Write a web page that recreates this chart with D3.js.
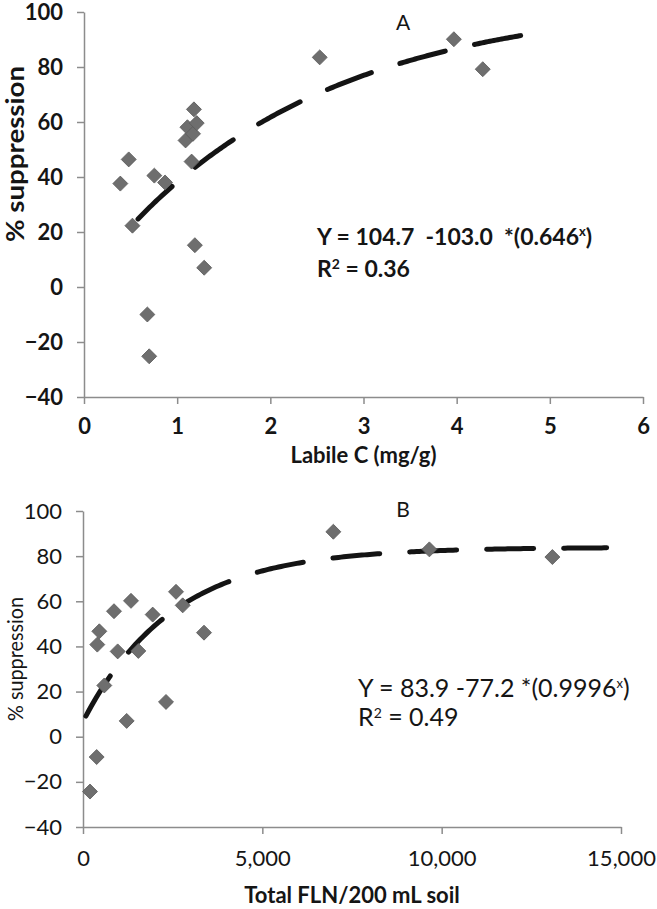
<!DOCTYPE html>
<html>
<head>
<meta charset="utf-8">
<script src="https://cdn.jsdelivr.net/npm/d3@7"></script>
<style>
  html, body { margin: 0; padding: 0; background: #fff; }
  svg { display: block; }
  text { font-family: Lato, "Open Sans", "DejaVu Sans", sans-serif; }
</style>
</head>
<body>
<svg id="chart" width="657" height="909"></svg>
<script>
// ---------- Data ----------
// Panel A: labile C (mg/g) vs % suppression
const labileC = [0.39, 0.48, 0.52, 0.68, 0.70, 0.755, 0.87, 1.09, 1.11, 1.17, 1.18, 1.21, 1.155, 1.19, 1.29, 2.53, 3.97, 4.28];
const suppressionA = [37.6, 46.4, 22.3, -10, -25.2, 40.5, 38, 53.3, 58.1, 55.7, 64.6, 59.6, 45.6, 15.2, 7.0, 83.5, 90.1, 79.2];

// Panel B: total FLN / 200 mL soil vs % suppression
const totalFLN = [195, 381, 399, 455, 594, 864, 967, 1218, 1338, 1543, 1943, 2314, 2593, 2780, 3374, 6980, 9657, 13087];
const suppressionB = [-24.3, -9.0, 40.8, 46.7, 22.7, 55.6, 37.8, 7.0, 60.2, 38.0, 54.1, 15.4, 64.2, 58.2, 46.1, 90.8, 83.0, 79.6];

// Fitted models (Y = a - b * c^x) and their plotted x-ranges
const fitA = [104.7, 103.0, 0.646];
const fitRangeA = [0.58, 4.8];
const fitB = [83.9, 77.2, 0.9996];
const fitRangeB = [80, 14600];

// Ticks
const yTicks = [-40, -20, 0, 20, 40, 60, 80, 100];
const xTicksA = [0, 1, 2, 3, 4, 5, 6];
const xTicksB = [0, 5000, 10000, 15000];

// ---------- Drawing ----------
const svg = d3.select("#chart");
svg.append("rect").attr("width", 657).attr("height", 909).attr("fill", "#fff");

const AXIS = "#8c8c8c";
const INK = "#151515";

function panel(opt) {
  const g = svg.append("g");
  const x = opt.x, y = opt.y;
  const [x0, x1] = x.range();
  const [y0, y1] = y.range(); // y0 bottom, y1 top

  // x axis
  const xa = g.append("g").attr("transform", `translate(0,${y0})`)
    .call(d3.axisBottom(x).tickValues(opt.xTicks).tickFormat(opt.xFmt)
      .tickSize(7).tickSizeOuter(0).tickPadding(opt.xPad));
  // y axis
  const ya = g.append("g").attr("transform", `translate(${x0},0)`)
    .call(d3.axisLeft(y).tickValues(yTicks).tickFormat(d3.format("d"))
      .tickSize(7).tickSizeOuter(0).tickPadding(14));
  [xa, ya].forEach(a => {
    a.select(".domain").attr("stroke", AXIS).attr("stroke-width", 1.5);
    a.selectAll(".tick line").attr("stroke", AXIS).attr("stroke-width", 1.5);
    a.selectAll(".tick text").attr("fill", INK).attr("font-size", 22)
      .attr("font-weight", opt.tickWeight)
      .style("font-family", "Lato, 'Open Sans', sans-serif");
  });

  // fitted curve (dashed)
  const [a, b, c] = opt.fit;
  const xs = d3.range(0, 201).map(i => opt.fitRange[0] + (opt.fitRange[1] - opt.fitRange[0]) * i / 200);
  const line = d3.line().x(d => x(d)).y(d => y(a - b * Math.pow(c, d)));
  g.append("path").datum(xs).attr("d", line)
    .attr("fill", "none").attr("stroke", "#141414").attr("stroke-width", 5)
    .attr("stroke-linecap", "round").attr("stroke-dasharray", "47 30");

  // markers (diamonds)
  const sym = d3.symbol().type(d3.symbolSquare).size(112);
  g.selectAll("path.pt").data(opt.xs.map((v, i) => [v, opt.ys[i]])).join("path")
    .attr("class", "pt")
    .attr("d", sym)
    .attr("transform", d => `translate(${x(d[0])},${y(d[1])}) rotate(45)`)
    .attr("fill", "#6e6e6e").attr("stroke", "#5c5c5c").attr("stroke-width", 0.8);

  // title letter
  g.append("text").attr("x", opt.title[1]).attr("y", opt.title[2])
    .attr("text-anchor", "middle").attr("font-size", 21).attr("fill", INK)
    .text(opt.title[0]);

  // axis titles
  g.append("text").attr("x", (x0 + x1) / 2).attr("y", opt.xLabelY)
    .attr("text-anchor", "middle").attr("font-size", 22).attr("font-weight", "bold")
    .attr("fill", INK).text(opt.xLabel);
  g.append("text")
    .attr("transform", `translate(${opt.yLabelPos[0]},${opt.yLabelPos[1]}) rotate(-90)`)
    .attr("text-anchor", "middle").attr("font-size", opt.yLabelSize).attr("font-weight", opt.yLabelWeight)
    .attr("fill", INK)
    .attr("textLength", opt.yLabelLen).attr("lengthAdjust", "spacingAndGlyphs")
    .text("% suppression");

  // equation
  const eq = g.append("text").attr("x", opt.eqPos[0]).attr("y", opt.eqPos[1])
    .attr("font-size", opt.eqSize).attr("font-weight", opt.eqWeight).attr("fill", INK)
    .style("white-space", "pre");
  eq.append("tspan").text(opt.eq[0]);
  eq.append("tspan").attr("font-size", 13).attr("dy", -9).text("x");
  eq.append("tspan").attr("dy", 9).text(")");
  const r2 = g.append("text").attr("x", opt.eqPos[0]).attr("y", opt.eqPos[1] + opt.r2Gap)
    .attr("font-size", opt.eqSize).attr("font-weight", opt.eqWeight).attr("fill", INK)
    .style("white-space", "pre");
  r2.append("tspan").text("R");
  r2.append("tspan").attr("font-size", 14).attr("dy", -8).text("2");
  r2.append("tspan").attr("dy", 8).text(" = " + opt.eq[1]);
}

panel({
  x: d3.scaleLinear().domain([0, 6]).range([84, 643]),
  y: d3.scaleLinear().domain([-40, 100]).range([397, 12]),
  xs: labileC, ys: suppressionA,
  xTicks: xTicksA, xFmt: d3.format("d"), tickWeight: "bold", xPad: 14,
  fit: fitA, fitRange: fitRangeA,
  title: ["A", 403, 30],
  xLabel: "Labile C (mg/g)", xLabelY: 463,
  yLabelPos: [24, 154], yLabelLen: 176, yLabelSize: 25, yLabelWeight: "bold",
  eq: ["Y = 104.7  -103.0  *(0.646", "0.36"], eqPos: [317, 245], eqWeight: "bold", eqSize: 23, r2Gap: 32
});

panel({
  x: d3.scaleLinear().domain([0, 15000]).range([83, 621]),
  y: d3.scaleLinear().domain([-40, 100]).range([827, 511]),
  xs: totalFLN, ys: suppressionB,
  xTicks: xTicksB, xFmt: d3.format(","), tickWeight: "normal", xPad: 16,
  fit: fitB, fitRange: fitRangeB,
  title: ["B", 403, 517],
  xLabel: "Total FLN/200 mL soil", xLabelY: 903,
  yLabelPos: [23, 659], yLabelLen: 124, yLabelSize: 21, yLabelWeight: "normal",
  eq: ["Y = 83.9 -77.2 *(0.9996", "0.49"], eqPos: [358, 697], eqWeight: "normal", eqSize: 25, r2Gap: 29
});
</script>
</body>
</html>
